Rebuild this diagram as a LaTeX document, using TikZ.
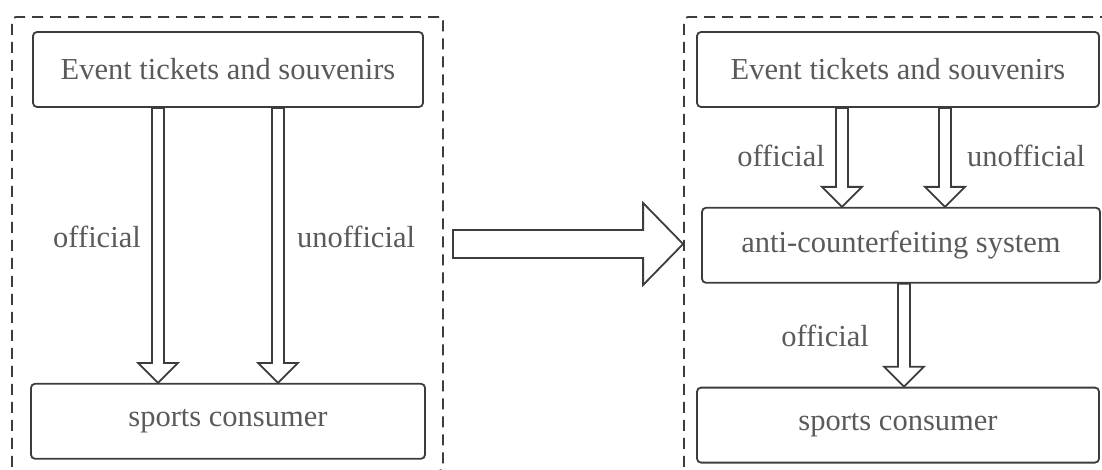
\documentclass[tikz,border=0pt]{standalone}
\usepackage{fontspec}
\setmainfont{Liberation Serif}
\usetikzlibrary{positioning,calc}
\definecolor{ink}{HTML}{3C3C3C}
\definecolor{txt}{HTML}{5A5A5A}
\tikzset{fat/.style n args={3}{to path={let \p1=(\tikztostart),\p2=(\tikztotarget),
  \p3=($(\p2)!#3!(\p1)$),
  \p4=($(\p1)!#1!90:(\p2)$),\p5=($(\p1)!#1!-90:(\p2)$),
  \p6=($(\p3)!#1!90:(\p2)$),\p7=($(\p3)!#2!90:(\p2)$),
  \p8=($(\p3)!#2!-90:(\p2)$),\p9=($(\p3)!#1!-90:(\p2)$) in
  (\p4)--(\p6)--(\p7)--(\p2)--(\p8)--(\p9)--(\p5)--cycle}}}
\begin{document}
\begin{tikzpicture}[x=1pt,y=1pt,every node/.style={font=\fontsize{30.5pt}{36pt}\selectfont,text=txt},
  n/.style={draw=ink,line width=1.8pt,rounded corners=4pt,minimum height=75pt,inner sep=0pt},
  grp/.style={draw=ink,line width=1.8pt,dash pattern=on 11pt off 7pt,rounded corners=4pt,minimum width=431pt,minimum height=454pt,inner sep=0pt},
  arr/.style={draw=ink,fill=white,line width=1.8pt,line join=miter,fat={6pt}{20pt}{20pt}}]
\useasboundingbox (0,0) rectangle (1102,469);
% before
\node[grp] (grpL) at (227.5,225) {};
\node[n,minimum width=390pt] (ev1) at (228,399.5) {Event tickets and souvenirs};
\node[n,minimum width=394pt,below=275pt of ev1] (con1) {sports consumer};
\draw[arr] ([xshift=-70pt]ev1.south) to ([xshift=-70pt]con1.north);
\draw[arr] ([xshift=50pt]ev1.south) to ([xshift=50pt]con1.north);
\node (o1) at (97,232) {official};
\node (u1) at (356,232) {unofficial};
% after
\node[grp] (grpR) at (899.5,225) {};
\node[n,minimum width=402pt] (ev2) at (898,399.5) {Event tickets and souvenirs};
\node[n,minimum width=398pt,below=99pt of ev2,xshift=3pt] (sys) {anti-counterfeiting system};
\node[n,minimum width=402pt,below=103pt of sys,xshift=-3pt] (con2) {sports consumer};
\draw[arr] ([xshift=-56pt]ev2.south) to ([xshift=-59pt]sys.north);
\draw[arr] ([xshift=47pt]ev2.south) to ([xshift=44pt]sys.north);
\draw[arr] ([xshift=3pt]sys.south) to ([xshift=6pt]con2.north);
\node (o2) at (781,313) {official};
\node (u2) at (1026,313) {unofficial};
\node (o3) at (825,133) {official};
% between
\draw[draw=ink,fill=white,line width=1.8pt,line join=miter,fat={14pt}{41pt}{40pt}] ([xshift=9pt]grpL.east) to (grpR.west);
\end{tikzpicture}
\end{document}
